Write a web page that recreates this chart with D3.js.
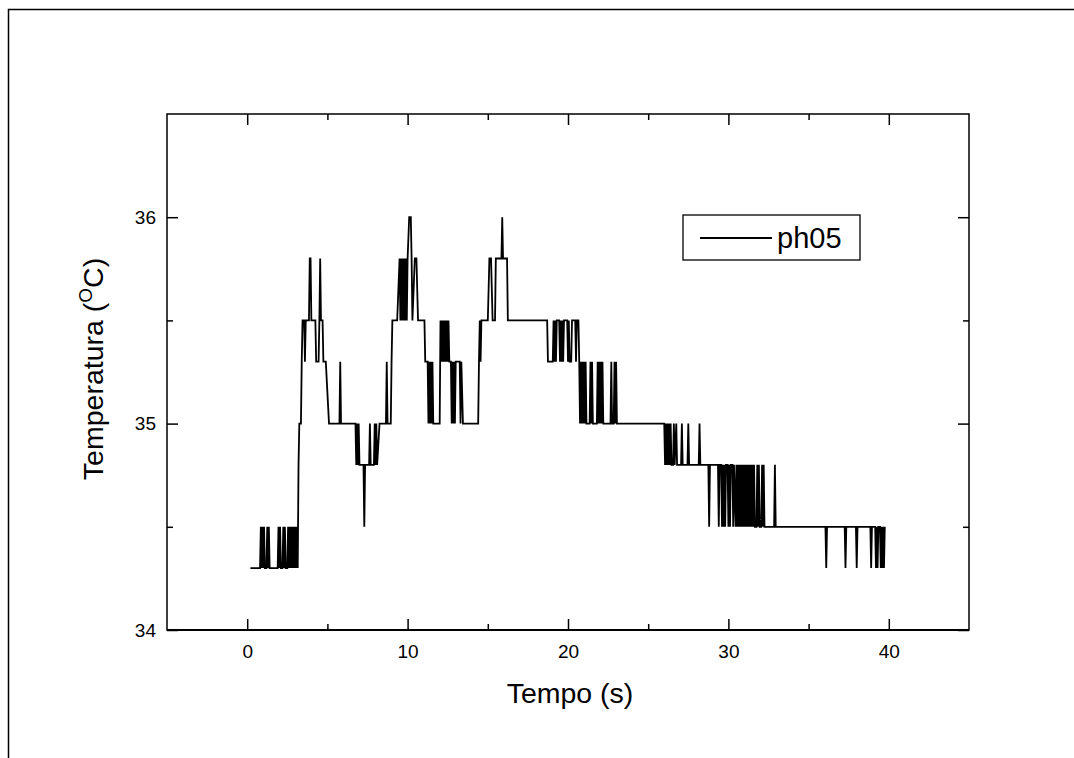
<!DOCTYPE html>
<html>
<head>
<meta charset="utf-8">
<script src="https://cdn.jsdelivr.net/npm/d3@7"></script>
<style>
  body { margin: 0; background: #fff; }
  text { font-family: "Liberation Sans", Arial, sans-serif; fill: #000; }
</style>
</head>
<body>
<svg id="grafico" width="1074" height="758"></svg>
<script>
// Dados: [tempo (s), temperatura (°C)]
var serie_ph05 = [
  [0.2,34.3],[0.8,34.3],[0.85,34.5],[0.9,34.3],[0.95,34.5],[1.0,34.3],[1.05,34.5],[1.1,34.3],
  [1.2,34.3],[1.25,34.5],[1.3,34.3],[1.35,34.5],[1.4,34.3],
  [1.9,34.3],[1.95,34.5],[2.0,34.3],[2.05,34.5],[2.1,34.3],[2.2,34.3],[2.25,34.5],[2.3,34.3],[2.35,34.5],[2.4,34.3],
  [2.5,34.3],[2.55,34.5],[2.6,34.3],[2.65,34.5],[2.7,34.3],[2.75,34.5],[2.8,34.3],[2.85,34.5],[2.9,34.3],
  [2.95,34.5],[3.0,34.3],[3.05,34.5],[3.1,34.3],[3.12,34.5],[3.15,34.3],
  [3.2,34.8],[3.25,35.0],[3.35,35.0],[3.4,35.3],[3.45,35.5],[3.55,35.5],[3.6,35.3],[3.65,35.5],[3.85,35.5],
  [3.9,35.8],[3.95,35.8],[4.0,35.5],[4.25,35.5],[4.3,35.3],[4.45,35.3],[4.5,35.5],[4.55,35.8],[4.6,35.5],
  [4.7,35.5],[4.75,35.3],[4.9,35.3],[5.1,35.0],[5.75,35.0],[5.8,35.3],[5.85,35.0],
  [6.75,35.0],[6.8,34.8],[6.85,35.0],[6.9,34.8],[6.95,35.0],[7.0,34.8],[7.25,34.8],[7.3,34.5],[7.35,34.8],
  [7.6,34.8],[7.65,35.0],[7.7,34.8],[7.9,34.8],[7.95,35.0],[8.0,34.8],[8.05,35.0],[8.1,34.8],[8.25,35.0],
  [8.65,35.0],[8.7,35.3],[8.75,35.0],[8.95,35.0],[9.0,35.3],[9.05,35.5],[9.35,35.5],
  [9.5,35.8],[9.55,35.5],[9.6,35.8],[9.65,35.5],[9.7,35.8],[9.75,35.5],[9.8,35.8],[9.85,35.5],[9.9,35.8],
  [9.95,35.5],[10.0,35.8],[10.1,36.0],[10.2,36.0],[10.25,35.8],[10.3,35.5],[10.45,35.8],[10.55,35.8],
  [10.65,35.5],[11.05,35.5],[11.1,35.3],
  [11.25,35.3],[11.3,35.0],[11.35,35.3],[11.4,35.0],[11.45,35.3],[11.5,35.0],[11.55,35.3],[11.6,35.0],
  [12.0,35.0],[12.05,35.5],[12.1,35.3],[12.15,35.5],[12.2,35.3],[12.25,35.5],[12.3,35.3],[12.35,35.5],
  [12.4,35.3],[12.45,35.5],[12.5,35.3],[12.55,35.5],[12.6,35.3],[12.7,35.3],[12.75,35.0],[12.8,35.3],
  [12.85,35.0],[12.9,35.3],[12.95,35.0],[13.0,35.3],[13.25,35.3],[13.3,35.0],[13.35,35.3],[13.45,35.0],
  [14.4,35.0],[14.45,35.3],[14.5,35.5],[14.55,35.3],[14.6,35.5],[15.0,35.5],[15.1,35.8],[15.2,35.8],
  [15.3,35.5],[15.45,35.5],[15.5,35.8],[15.85,35.8],[15.9,36.0],[15.95,35.8],[16.2,35.8],[16.25,35.5],
  [18.7,35.5],[18.75,35.3],[19.05,35.3],[19.1,35.5],[19.15,35.3],[19.2,35.5],[19.25,35.3],[19.3,35.5],
  [19.45,35.5],[19.5,35.3],[19.55,35.5],[19.6,35.3],[19.65,35.5],[19.7,35.3],[19.75,35.5],[19.95,35.5],
  [20.0,35.3],[20.05,35.5],[20.1,35.3],[20.2,35.3],[20.25,35.5],[20.45,35.5],[20.5,35.3],[20.55,35.5],
  [20.65,35.5],[20.7,35.3],
  [20.75,35.0],[20.8,35.3],[20.85,35.0],[20.9,35.3],[20.95,35.0],[21.0,35.3],[21.05,35.0],[21.1,35.3],
  [21.15,35.0],[21.35,35.0],[21.4,35.3],[21.45,35.0],[21.5,35.3],[21.55,35.0],[21.8,35.0],[21.85,35.3],
  [21.9,35.0],[21.95,35.3],[22.0,35.0],[22.05,35.3],[22.1,35.0],[22.15,35.3],[22.2,35.0],[22.65,35.0],
  [22.7,35.3],[22.75,35.0],[22.85,35.0],[22.9,35.3],[22.95,35.0],[23.0,35.3],[23.05,35.0],
  [26.0,35.0],[26.05,34.8],[26.1,35.0],[26.15,34.8],[26.2,35.0],[26.25,34.8],[26.3,35.0],[26.35,34.8],
  [26.4,35.0],[26.45,34.8],[26.55,34.8],[26.6,35.0],[26.65,34.8],[26.75,35.0],[26.8,34.8],[27.05,34.8],
  [27.1,35.0],[27.15,34.8],[27.45,34.8],[27.5,35.0],[27.55,34.8],[28.15,34.8],[28.2,35.0],[28.25,34.8],
  [28.75,34.8],[28.8,34.5],[28.85,34.8],[29.35,34.8],[29.4,34.5],[29.45,34.8],[29.55,34.8],[29.6,34.5],
  [29.65,34.8],[29.7,34.5],[29.75,34.8],[29.8,34.5],[29.85,34.8],[29.95,34.8],[30.0,34.5],[30.05,34.8],
  [30.1,34.5],[30.15,34.8],[30.25,34.8],[30.3,34.5],[30.35,34.8],[30.45,34.5],
  [30.5,34.8],[30.55,34.5],[30.6,34.8],[30.65,34.5],[30.7,34.8],[30.75,34.5],[30.8,34.8],[30.85,34.5],
  [30.9,34.8],[30.95,34.5],[31.0,34.8],[31.05,34.5],[31.1,34.8],[31.15,34.5],[31.2,34.8],[31.25,34.5],
  [31.3,34.8],[31.35,34.5],[31.4,34.8],[31.45,34.5],[31.5,34.8],[31.55,34.5],[31.6,34.8],[31.65,34.5],
  [31.75,34.5],[31.8,34.8],[31.85,34.5],[31.9,34.8],[31.95,34.5],[32.05,34.5],[32.1,34.8],[32.15,34.5],
  [32.2,34.8],[32.25,34.5],
  [32.85,34.5],[32.9,34.8],[32.95,34.5],[36.05,34.5],[36.1,34.3],[36.15,34.5],[37.25,34.5],[37.3,34.3],
  [37.35,34.5],[37.95,34.5],[38.0,34.3],[38.05,34.5],[38.85,34.5],[38.9,34.3],[38.95,34.5],[39.15,34.5],
  [39.2,34.3],[39.25,34.5],[39.3,34.3],[39.35,34.5],[39.45,34.5],[39.5,34.3],[39.55,34.5],[39.6,34.3],
  [39.65,34.5],[39.7,34.3],[39.75,34.5]
];

var dominioX = [-5, 45];
var dominioY = [34, 36.5];
var ticksX = [0, 10, 20, 30, 40];
var ticksXmenor = [5, 15, 25, 35];
var ticksY = [34, 35, 36];
var ticksYmenor = [34.5, 35.5];
var nomeSerie = "ph05";

var svg = d3.select("#grafico");

// Moldura externa
svg.append("path")
  .attr("d", "M8.5,760 L8.5,9.5 L1080,9.5")
  .attr("fill", "none")
  .attr("stroke", "#000")
  .attr("stroke-width", 1.5);

var esq = 167, dir = 969, topo = 114, base = 630;

var x = d3.scaleLinear().domain(dominioX).range([esq, dir]);
var y = d3.scaleLinear().domain(dominioY).range([base, topo]);

function estiloEixo(g) {
  g.select(".domain").remove();
  g.selectAll(".tick line").attr("stroke", "#000").attr("stroke-width", 1.5);
  g.selectAll(".tick text").attr("font-family", "Liberation Sans, Arial, sans-serif")
    .attr("font-size", 19).attr("fill", "#000");
}

// Eixo inferior
svg.append("g").attr("transform", "translate(0," + base + ")")
  .call(d3.axisBottom(x).tickValues(ticksX).tickSizeInner(-11).tickSizeOuter(0).tickPadding(15))
  .call(estiloEixo);
svg.append("g").attr("transform", "translate(0," + base + ")")
  .call(d3.axisBottom(x).tickValues(ticksXmenor).tickSizeInner(-6).tickSizeOuter(0).tickFormat(""))
  .call(estiloEixo);
// Eixo superior
svg.append("g").attr("transform", "translate(0," + topo + ")")
  .call(d3.axisTop(x).tickValues(ticksX).tickSizeInner(-11).tickSizeOuter(0).tickFormat(""))
  .call(estiloEixo);
svg.append("g").attr("transform", "translate(0," + topo + ")")
  .call(d3.axisTop(x).tickValues(ticksXmenor).tickSizeInner(-6).tickSizeOuter(0).tickFormat(""))
  .call(estiloEixo);
// Eixo esquerdo
svg.append("g").attr("transform", "translate(" + esq + ",0)")
  .call(d3.axisLeft(y).tickValues(ticksY).tickSizeInner(-11).tickSizeOuter(0).tickPadding(11).tickFormat(d3.format("d")))
  .call(estiloEixo);
svg.append("g").attr("transform", "translate(" + esq + ",0)")
  .call(d3.axisLeft(y).tickValues(ticksYmenor).tickSizeInner(-6).tickSizeOuter(0).tickFormat(""))
  .call(estiloEixo);
// Eixo direito
svg.append("g").attr("transform", "translate(" + dir + ",0)")
  .call(d3.axisRight(y).tickValues(ticksY).tickSizeInner(-11).tickSizeOuter(0).tickFormat(""))
  .call(estiloEixo);
svg.append("g").attr("transform", "translate(" + dir + ",0)")
  .call(d3.axisRight(y).tickValues(ticksYmenor).tickSizeInner(-6).tickSizeOuter(0).tickFormat(""))
  .call(estiloEixo);

// Caixa do gráfico
svg.append("rect")
  .attr("x", esq).attr("y", topo)
  .attr("width", dir - esq).attr("height", base - topo)
  .attr("fill", "none").attr("stroke", "#000").attr("stroke-width", 1.5);
svg.append("line")
  .attr("x1", esq).attr("x2", dir).attr("y1", base).attr("y2", base)
  .attr("stroke", "#000").attr("stroke-width", 2.2);

// Linha da série
var linha = d3.line()
  .x(function(d) { return x(d[0]); })
  .y(function(d) { return y(d[1]); });

svg.append("path")
  .datum(serie_ph05)
  .attr("d", linha)
  .attr("fill", "none")
  .attr("stroke", "#000")
  .attr("stroke-width", 1.8)
  .attr("stroke-linejoin", "miter");

// Legenda
var leg = svg.append("g");
leg.append("rect").attr("x", 683).attr("y", 215).attr("width", 177).attr("height", 45)
  .attr("fill", "#fff").attr("stroke", "#000").attr("stroke-width", 1.3);
leg.append("line").attr("x1", 700).attr("x2", 772).attr("y1", 238).attr("y2", 238)
  .attr("stroke", "#000").attr("stroke-width", 1.8);
leg.append("text").attr("x", 777).attr("y", 248).attr("font-size", 29).text(nomeSerie);

// Títulos dos eixos
svg.append("text")
  .attr("x", 570).attr("y", 703)
  .attr("text-anchor", "middle").attr("font-size", 28.5)
  .text("Tempo (s)");

var tituloY = svg.append("text")
  .attr("transform", "translate(103,369) rotate(-90)")
  .attr("text-anchor", "middle").attr("font-size", 28.5);
tituloY.append("tspan").text("Temperatura (");
tituloY.append("tspan").attr("font-size", 19).attr("dy", -11).text("O");
tituloY.append("tspan").attr("dy", 11).text("C)");
</script>
</body>
</html>
